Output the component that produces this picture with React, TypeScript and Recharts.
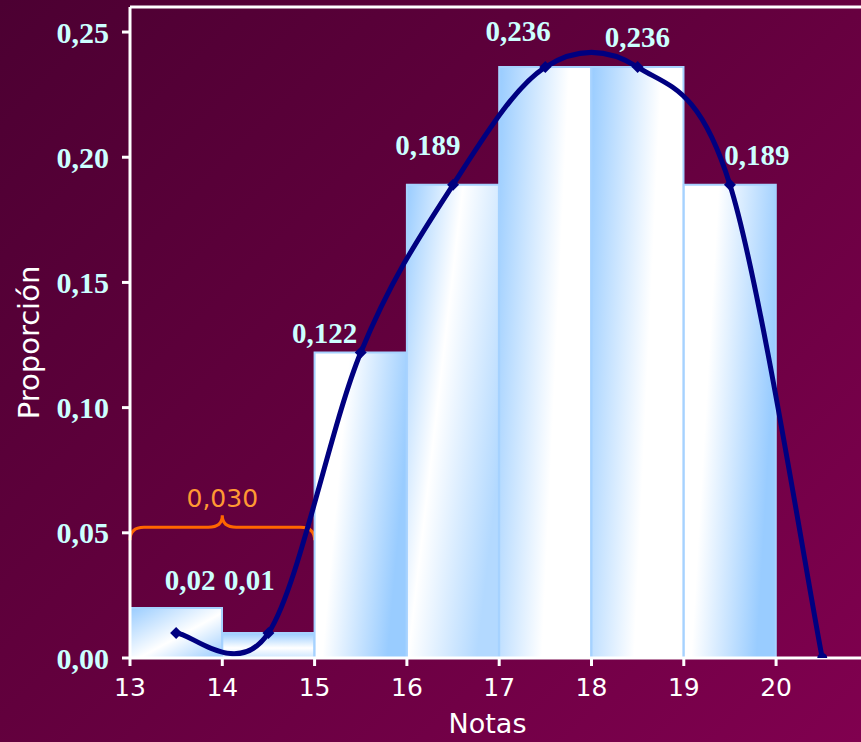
import { ComposedChart, Bar, Line, XAxis, YAxis, Cell, LabelList, ReferenceLine, ReferenceArea } from 'recharts'

// class midpoints (Notas 13-14 ... 19-20, plus closing point at 20.5)
const midpoints = [13.5, 14.5, 15.5, 16.5, 17.5, 18.5, 19.5, 20.5]
const barValues = [0.02, 0.01, 0.122, 0.189, 0.236, 0.236, 0.189]
const curveValues = [0.01, 0.01, 0.122, 0.189, 0.236, 0.236, 0.189, 0]
const barLabels = ['0,02', '0,01', '0,122', '0,189', '0,236', '0,236', '0,189']
const xTicks = [13, 14, 15, 16, 17, 18, 19, 20]
const yTicks = [0, 0.05, 0.1, 0.15, 0.2, 0.25]
const braceFrom = 13
const braceTo = 15
const braceLow = 0.047
const braceHigh = 0.057
const braceLabel = '0,030'

const data = midpoints.map((x, i) => ({
    x,
    bar: barValues[i],
    curve: curveValues[i],
    label: barLabels[i],
}))

// styling only
const gradientFor = ['gDiagA', 'gTop', 'gRight', 'gDiagB', 'gLeft', 'gLeft', 'gRight']
const labelShift = [
    [14, 18], [-19, 43], [-36, 10], [-25, 30], [-27, 26], [0, 20], [27, 20],
]

const labelColor = '#ccffff'
const serif = '"Liberation Serif", "Times New Roman", serif'
const sans = '"DejaVu Sans", Verdana, sans-serif'

// Excel-like smoothed line (Catmull-Rom through the points)
const smoothCurve = (context: any) => {
    let xs: number[] = []
    let ys: number[] = []
    return {
        areaStart() {},
        areaEnd() {},
        lineStart() {
            xs = []
            ys = []
        },
        point(x: number, y: number) {
            xs.push(+x)
            ys.push(+y)
        },
        lineEnd() {
            const n = xs.length
            if (!n) return
            context.moveTo(xs[0], ys[0])
            for (let i = 0; i < n - 1; i++) {
                const a = Math.max(i - 1, 0)
                const d = Math.min(i + 2, n - 1)
                context.bezierCurveTo(
                    xs[i] + (xs[i + 1] - xs[a]) / 6,
                    ys[i] + (ys[i + 1] - ys[a]) / 6,
                    xs[i + 1] - (xs[d] - xs[i]) / 6,
                    ys[i + 1] - (ys[d] - ys[i]) / 6,
                    xs[i + 1],
                    ys[i + 1]
                )
            }
        },
    }
}

const renderDot = (props: any) => {
    const { cx, cy, index } = props
    if (cx == null || cy == null) return <g key={`d${index}`} />
    if (index === midpoints.length - 1) {
        return <circle key={`d${index}`} cx={cx} cy={cy} r={5} fill="#000080" />
    }
    const s = 6
    return (
        <polygon
            key={`d${index}`}
            points={`${cx},${cy - s} ${cx + s},${cy} ${cx},${cy + s} ${cx - s},${cy}`}
            fill="#000080"
        />
    )
}

const renderBarLabel = (props: any) => {
    const { x, y, width, index, value } = props
    if (value == null || index >= labelShift.length) return null
    const [dx, dy] = labelShift[index]
    return (
        <text
            x={x + width / 2 + dx}
            y={y - dy}
            textAnchor="middle"
            fill={labelColor}
            fontFamily={serif}
            fontWeight="bold"
            fontSize={29}
        >
            {value}
        </text>
    )
}

const renderBrace = (props: any) => {
    const { x, y, width, height } = props
    const cx = x + width / 2
    const mid = y + height * 0.48
    const d = [
        `M ${x} ${y + height}`,
        `Q ${x} ${mid} ${x + 14} ${mid}`,
        `L ${cx - 14} ${mid}`,
        `Q ${cx} ${mid} ${cx} ${y}`,
        `Q ${cx} ${mid} ${cx + 14} ${mid}`,
        `L ${x + width - 14} ${mid}`,
        `Q ${x + width} ${mid} ${x + width} ${y + height}`,
    ].join(' ')
    return (
        <g>
            <path d={d} fill="none" stroke="#ff6600" strokeWidth={3} />
            <text x={cx} y={y - 8} textAnchor="middle" fill="#ff9933" fontFamily={sans} fontSize={25}>
                {braceLabel}
            </text>
        </g>
    )
}

const YTitle = (props: any) => {
    const { viewBox } = props
    const cx = viewBox.x + 29
    const cy = viewBox.y + viewBox.height / 2 + 10
    return (
        <text
            x={cx}
            y={cy}
            transform={`rotate(-90, ${cx}, ${cy})`}
            textAnchor="middle"
            dominantBaseline="central"
            fill="#ffffff"
            fontFamily={sans}
            fontSize={29}
        >
            Proporción
        </text>
    )
}

const XTitle = (props: any) => {
    const { viewBox } = props
    return (
        <text
            x={viewBox.x + viewBox.width / 2 - 8}
            y={viewBox.y + 75}
            textAnchor="middle"
            fill="#ffffff"
            fontFamily={sans}
            fontSize={27}
        >
            Notas
        </text>
    )
}

export default function App() {
    return (
        <div
            style={{
                position: 'absolute',
                left: 0,
                top: 0,
                width: 861,
                height: 742,
                background: 'linear-gradient(135deg, #4c0032 0%, #62003d 45%, #80004f 100%)',
                overflow: 'hidden',
            }}
        >
            <ComposedChart width={861} height={742} data={data} margin={{ top: 7, right: 0, left: 0, bottom: 0 }}>
                <defs>
                    <linearGradient id="gLeft" x1="0" y1="0" x2="1" y2="0.3">
                        <stop offset="0%" stopColor="#99ccff" />
                        <stop offset="70%" stopColor="#ffffff" />
                        <stop offset="100%" stopColor="#ffffff" />
                    </linearGradient>
                    <linearGradient id="gRight" x1="0" y1="0" x2="1" y2="0.3">
                        <stop offset="0%" stopColor="#ffffff" />
                        <stop offset="35%" stopColor="#ffffff" />
                        <stop offset="100%" stopColor="#99ccff" />
                    </linearGradient>
                    <linearGradient id="gDiagB" x1="0" y1="0" x2="1" y2="0.6">
                        <stop offset="0%" stopColor="#99ccff" />
                        <stop offset="45%" stopColor="#ffffff" />
                        <stop offset="100%" stopColor="#b3d9ff" />
                    </linearGradient>
                    <linearGradient id="gDiagA" x1="0" y1="0" x2="1" y2="1">
                        <stop offset="0%" stopColor="#99ccff" />
                        <stop offset="55%" stopColor="#ffffff" />
                        <stop offset="100%" stopColor="#99ccff" />
                    </linearGradient>
                    <linearGradient id="gTop" x1="0" y1="0" x2="0" y2="1">
                        <stop offset="0%" stopColor="#99ccff" />
                        <stop offset="60%" stopColor="#ffffff" />
                        <stop offset="100%" stopColor="#cce6ff" />
                    </linearGradient>
                </defs>
                <XAxis
                    dataKey="x"
                    type="number"
                    domain={[13, 20.92]}
                    allowDataOverflow
                    ticks={xTicks}
                    interval={0}
                    height={84}
                    stroke="#ffffff"
                    strokeWidth={3}
                    tickSize={8}
                    tickMargin={12}
                    tick={{ fill: '#ffffff', fontFamily: sans, fontSize: 25 }}
                    label={<XTitle />}
                />
                <YAxis
                    type="number"
                    domain={[0, 0.26]}
                    allowDataOverflow
                    ticks={yTicks}
                    interval={0}
                    width={130}
                    stroke="#ffffff"
                    strokeWidth={3}
                    tickSize={8}
                    tickMargin={13}
                    tickFormatter={(v: number) => v.toFixed(2).replace('.', ',')}
                    tick={{ fill: labelColor, fontFamily: serif, fontWeight: 'bold', fontSize: 30 }}
                    label={<YTitle />}
                />
                <ReferenceLine y={0.26} stroke="#ffffff" strokeWidth={3} />
                <Bar dataKey="bar" barSize={92} stroke="#a6d2ff" strokeWidth={2} isAnimationActive={false}>
                    {data.map((_, i) => (
                        <Cell key={i} fill={`url(#${gradientFor[i] ?? 'gLeft'})`} />
                    ))}
                    <LabelList dataKey="label" content={renderBarLabel} />
                </Bar>
                <ReferenceArea
                    x1={braceFrom}
                    x2={braceTo}
                    y1={braceLow}
                    y2={braceHigh}
                    shape={renderBrace}
                />
                <Line
                    dataKey="curve"
                    type={smoothCurve as any}
                    stroke="#000080"
                    strokeWidth={5}
                    dot={renderDot}
                    activeDot={false}
                    isAnimationActive={false}
                />
            </ComposedChart>
        </div>
    )
}
